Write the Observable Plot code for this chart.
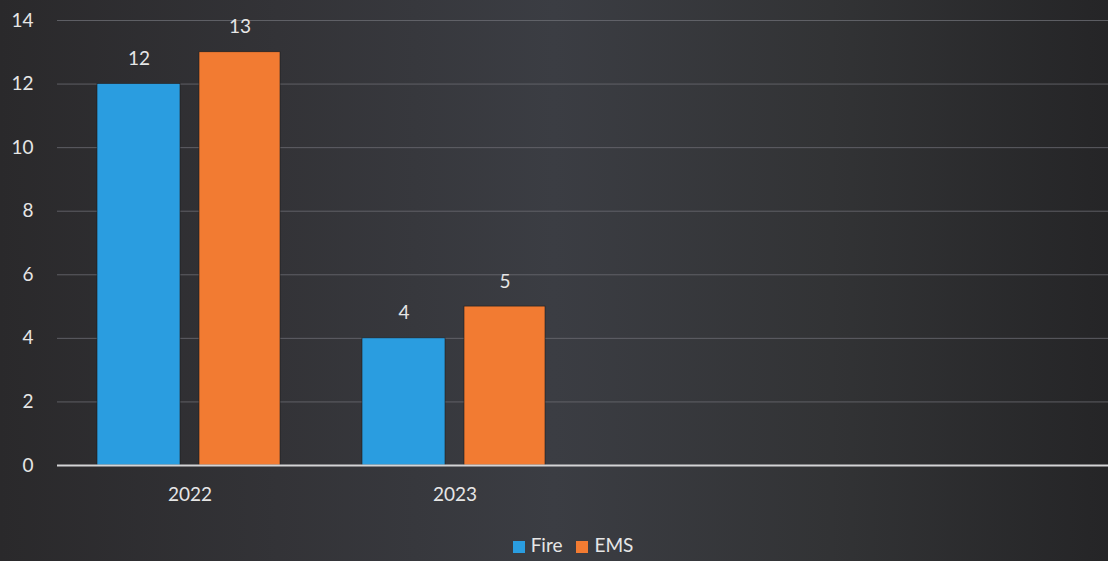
<!DOCTYPE html>
<html>
<head>
<meta charset="utf-8">
<script src="https://cdn.jsdelivr.net/npm/d3@7"></script>
<script src="https://cdn.jsdelivr.net/npm/@observablehq/plot@0.6"></script>
<style>
  html, body { margin: 0; padding: 0; }
  body {
    width: 1108px; height: 561px; overflow: hidden;
    background: linear-gradient(90deg, #2a292b 0%, #333337 25%, #3b3d43 50%, #323335 75%, #252527 100%);
    font-family: Lato, "Open Sans", sans-serif;
  }
  #chart svg { display: block; background: transparent; }
  #legend {
    height: 33px; display: flex; justify-content: center; align-items: center;
    padding-left: 38px; color: #e6e6e6; font-size: 19px; gap: 14px;
  }
  .sw { display: inline-block; width: 12px; height: 12px; margin-right: 6px; vertical-align: -1px; }
</style>
</head>
<body>
<div id="chart"></div>
<div id="legend"></div>
<script>
const years = ["2022", "2023"];
const series = ["Fire", "EMS"];
const fireValues = [12, 4];
const emsValues = [13, 5];
const yTicks = [0, 2, 4, 6, 8, 10, 12, 14];
const colors = {Fire: "#2a9de0", EMS: "#f27b32"};

const fire = years.map((y, i) => ({year: y, series: "Fire", value: fireValues[i]}));
const ems = years.map((y, i) => ({year: y, series: "EMS", value: emsValues[i]}));

const plot = Plot.plot({
  width: 1108,
  height: 528,
  marginTop: 20,
  marginBottom: 63,
  marginLeft: 57,
  marginRight: 0,
  style: {background: "transparent", color: "#e6e6e6", fontSize: "19px", fontFamily: "Lato, 'Open Sans', sans-serif"},
  x: {domain: years, range: [57, 587], padding: 0, label: null, tickSize: 0, tickPadding: 22},
  y: {domain: [0, 14], ticks: yTicks, label: null, tickSize: 0, tickPadding: 24, grid: false},
  marks: [
    Plot.ruleY(yTicks.filter(t => t > 0), {stroke: "#6a6c72", strokeWidth: 1, strokeOpacity: 0.8}),
    Plot.barY(fire, {x: "year", y: "value", fill: colors.Fire, insetLeft: 40, insetRight: 142, stroke: "#1b1b1d", strokeWidth: 0.6}),
    Plot.barY(ems, {x: "year", y: "value", fill: colors.EMS, insetLeft: 142, insetRight: 42, stroke: "#1b1b1d", strokeWidth: 0.6}),
    Plot.ruleY([0], {stroke: "#d4d4d6", strokeWidth: 2}),
    Plot.text(fire, {x: "year", y: "value", text: d => String(d.value), dx: -51, dy: -25, fill: "#e6e6e6", fontSize: 19}),
    Plot.text(ems, {x: "year", y: "value", text: d => String(d.value), dx: 50, dy: -25, fill: "#e6e6e6", fontSize: 19})
  ]
});
document.getElementById("chart").appendChild(plot);

const legend = document.getElementById("legend");
series.forEach(s => {
  const item = document.createElement("span");
  const sw = document.createElement("span");
  sw.className = "sw";
  sw.style.background = colors[s];
  item.appendChild(sw);
  item.appendChild(document.createTextNode(s));
  legend.appendChild(item);
});
</script>
</body>
</html>
